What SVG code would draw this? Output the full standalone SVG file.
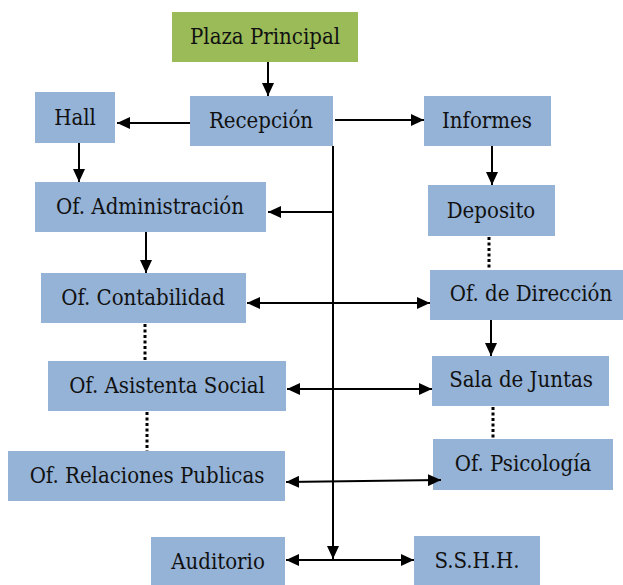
<svg xmlns="http://www.w3.org/2000/svg" width="623" height="585" viewBox="0 0 623 585">
<style>
.b{fill:#95B3D7}
.g{fill:#9BBB59}
text{font-family:'DejaVu Serif',serif;font-stretch:condensed;font-size:22px;fill:#111;text-anchor:middle}
.l{stroke:#000;stroke-width:2;fill:none}
.d{stroke:#000;stroke-width:3;fill:none;stroke-dasharray:3 2.5}
</style>
<defs>
<marker id="a" markerUnits="userSpaceOnUse" markerWidth="14" markerHeight="12" refX="13" refY="6" orient="auto-start-reverse">
<path d="M0,0 L13,6 L0,12 Z" fill="#000"/>
</marker>
</defs>
<rect width="623" height="585" fill="#fff"/>
<g id="plaza"><rect class="g" x="172" y="12" width="186" height="50"/><text x="265" y="44">Plaza Principal</text></g>
<g id="recepcion"><rect class="b" x="190" y="96" width="143" height="50"/><text x="261" y="128">Recepción</text></g>
<g id="hall"><rect class="b" x="35" y="92" width="80" height="51"/><text x="75" y="125">Hall</text></g>
<g id="informes"><rect class="b" x="424" y="96" width="127" height="50"/><text x="487" y="128">Informes</text></g>
<g id="administracion"><rect class="b" x="35" y="182" width="231" height="50"/><text x="150" y="214">Of. Administración</text></g>
<g id="deposito"><rect class="b" x="428" y="185" width="127" height="51"/><text x="491" y="218">Deposito</text></g>
<g id="contabilidad"><rect class="b" x="41" y="273" width="205" height="50"/><text x="143" y="305">Of. Contabilidad</text></g>
<g id="direccion"><rect class="b" x="430" y="270" width="193" height="50"/><text x="531" y="301">Of. de Dirección</text></g>
<g id="asistenta"><rect class="b" x="48" y="361" width="238" height="50"/><text x="167" y="393">Of. Asistenta Social</text></g>
<g id="sala"><rect class="b" x="432" y="356" width="177" height="50"/><text x="521" y="387">Sala de Juntas</text></g>
<g id="relaciones"><rect class="b" x="8" y="451" width="277" height="50"/><text x="147" y="483">Of. Relaciones Publicas</text></g>
<g id="psicologia"><rect class="b" x="433" y="439" width="180" height="51"/><text x="523" y="471">Of. Psicología</text></g>
<g id="auditorio"><rect class="b" x="151" y="537" width="134" height="50"/><text x="218" y="569">Auditorio</text></g>
<g id="sshh"><rect class="b" x="414" y="536" width="126" height="51"/><text x="477" y="568">S.S.H.H.</text></g>
<g id="connectors">
<line class="l" x1="268" y1="62" x2="268" y2="96" marker-end="url(#a)"/>
<line class="l" x1="190" y1="123" x2="117" y2="123" marker-end="url(#a)"/>
<line class="l" x1="335" y1="120" x2="424" y2="120" marker-end="url(#a)"/>
<line class="l" x1="333" y1="146" x2="333" y2="559" marker-end="url(#a)"/>
<line class="l" x1="333" y1="212" x2="268" y2="212" marker-end="url(#a)"/>
<line class="l" x1="79" y1="143" x2="79" y2="182" marker-end="url(#a)"/>
<line class="l" x1="492" y1="146" x2="492" y2="185" marker-end="url(#a)"/>
<line class="d" x1="489" y1="237" x2="489" y2="270"/>
<line class="l" x1="146" y1="232" x2="146" y2="273" marker-end="url(#a)"/>
<line class="l" x1="247" y1="303" x2="430" y2="303" marker-start="url(#a)" marker-end="url(#a)"/>
<line class="d" x1="145" y1="324" x2="145" y2="361"/>
<line class="l" x1="491" y1="320" x2="491" y2="356" marker-end="url(#a)"/>
<line class="l" x1="287" y1="389" x2="432" y2="389" marker-start="url(#a)" marker-end="url(#a)"/>
<line class="d" x1="493" y1="407" x2="493" y2="439"/>
<line class="d" x1="147" y1="412" x2="147" y2="451"/>
<line class="l" x1="286" y1="482" x2="441" y2="480" marker-start="url(#a)" marker-end="url(#a)"/>
<line class="l" x1="286" y1="560" x2="414" y2="560" marker-start="url(#a)" marker-end="url(#a)"/>
</g>
</svg>
